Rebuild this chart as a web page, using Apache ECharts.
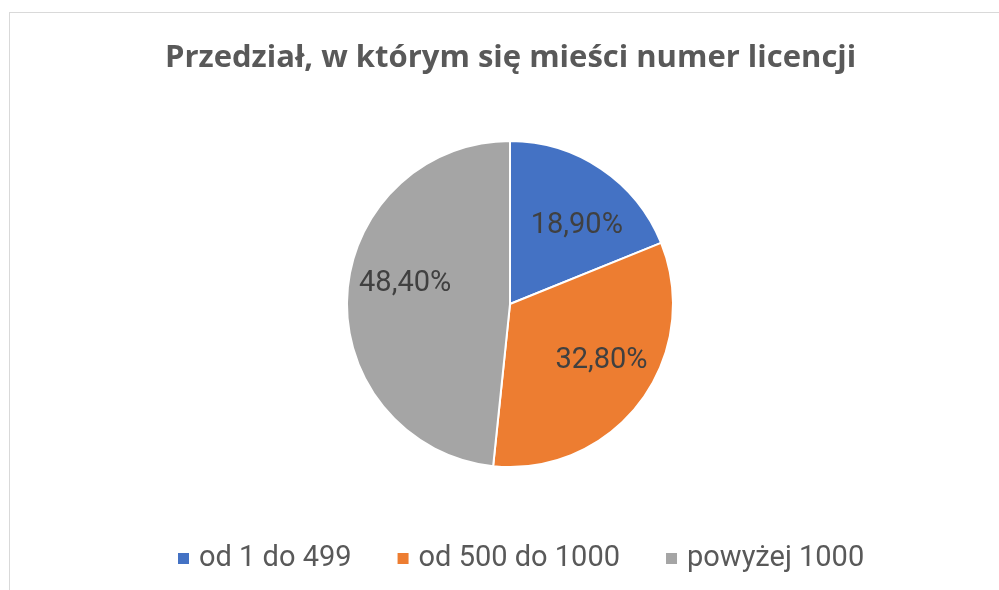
<!DOCTYPE html>
<html>
<head>
<meta charset="utf-8">
<script src="https://cdn.jsdelivr.net/npm/echarts@6/dist/echarts.min.js"></script>
<style>
  html, body { margin: 0; padding: 0; overflow: hidden; background: #fff; }
  #frame {
    position: absolute; left: 9px; top: 12px;
    width: 1100px; height: 700px;
    border: 1px solid #d9d9d9;
  }
  #chart { position: absolute; left: 0; top: 0; width: 999px; height: 590px; }
</style>
</head>
<body>
<div id="frame"></div>
<div id="chart"></div>
<script>
// dane wykresu
const chartTitle = 'Przedział, w którym się mieści numer licencji'
const categories = ['od 1 do 499', 'od 500 do 1000', 'powyżej 1000']
const shares = [18.9, 32.8, 48.4]
const colors = ['#4472C4', '#ED7D31', '#A5A5A5']

const fmt = v => v.toFixed(2).replace('.', ',') + '%'

// przesunięcia etykiet (jak "najlepsze dopasowanie" w Excelu)
const labelShift = [[7, 10], [6, -8], [2, -15]]

const myChart = echarts.init(document.getElementById('chart'))
const option = {
  animation: false,
  title: {
    text: chartTitle,
    left: 160,
    top: 38,
    textStyle: {
      fontFamily: 'Open Sans',
      fontWeight: 'bold',
      fontSize: 31,
      color: '#595959'
    }
  },
  legend: {
    left: 171,
    top: 539,
    icon: 'rect',
    itemWidth: 13,
    itemHeight: 13,
    itemGap: 44,
    data: categories,
    textStyle: {
      fontFamily: 'Roboto',
      fontSize: 29,
      color: '#595959',
      padding: [0, 0, 0, 4]
    }
  },
  series: [
    {
      // kolorowe wycinki
      type: 'pie',
      center: [510, 304],
      radius: [0, 163],
      startAngle: 90,
      clockwise: true,
      silent: true,
      data: categories.map((name, i) => ({
        name: name,
        value: shares[i],
        itemStyle: { color: colors[i] }
      })),
      itemStyle: { borderColor: '#fff', borderWidth: 2 },
      label: { show: false },
      labelLine: { show: false }
    },
    {
      // przezroczysta warstwa tylko dla etykiet
      type: 'pie',
      center: [510, 304],
      radius: [45, 163],
      startAngle: 90,
      clockwise: true,
      silent: true,
      legendHoverLink: false,
      data: categories.map((name, i) => ({
        name: name,
        value: shares[i],
        itemStyle: { color: 'rgba(0,0,0,0)' },
        label: { offset: labelShift[i] }
      })),
      label: {
        show: true,
        position: 'inside',
        formatter: p => fmt(p.value),
        fontFamily: 'Roboto',
        fontSize: 29,
        color: '#404040'
      },
      labelLine: { show: false }
    }
  ]
}
myChart.setOption(option)
</script>
</body>
</html>
